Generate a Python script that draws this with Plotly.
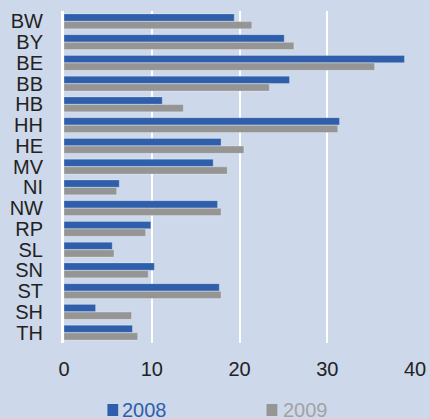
import plotly.graph_objects as go

categories = ["BW", "BY", "BE", "BB", "HB", "HH", "HE", "MV", "NI", "NW", "RP", "SL", "SN", "ST", "SH", "TH"]
values_2008 = [19.4, 25.1, 38.8, 25.7, 11.2, 31.4, 17.9, 17.0, 6.3, 17.5, 9.9, 5.5, 10.3, 17.7, 3.6, 7.8]
values_2009 = [21.4, 26.2, 35.4, 23.4, 13.6, 31.2, 20.5, 18.6, 6.0, 17.9, 9.3, 5.7, 9.6, 17.9, 7.7, 8.4]
x_ticks = [0, 10, 20, 30, 40]
series_names = ["2008", "2009"]

BLUE = "#2f5fab"
GRAY = "#959595"
GRAY_TXT = "#a3a3a3"
BG = "#cdd8ea"

fig = go.Figure()
fig.add_trace(go.Bar(
    y=categories, x=values_2008, orientation="h", name=series_names[0],
    marker=dict(color=BLUE, line=dict(color="rgba(255,255,255,0.35)", width=0.8)),
))
fig.add_trace(go.Bar(
    y=categories, x=values_2009, orientation="h", name=series_names[1],
    marker=dict(color=GRAY, line=dict(color="rgba(255,255,255,0.35)", width=0.8)),
))

L, R, T, B = 63.5, 14.7, 11, 76
ph = 419 - T - B
pw = 430 - L - R

def ypix(p):
    return (419 - B - p) / ph

def xpix(p):
    return (p - L) / pw

fig.update_layout(
    width=430, height=419,
    paper_bgcolor=BG, plot_bgcolor=BG,
    margin=dict(l=L, r=R, t=T, b=B, autoexpand=False),
    barmode="group", bargap=0.26, bargroupgap=0.05,
    font=dict(family="Arial, Liberation Sans, sans-serif", size=20, color="#222222"),
    showlegend=False, hovermode=False,
)
# legend: square key + coloured label
for name, col, sq, sx, tx in [(series_names[0], BLUE, BLUE, 107, 120),
                              (series_names[1], GRAY_TXT, GRAY, 266.5, 281)]:
    fig.add_shape(type="rect", xref="paper", yref="paper",
                  x0=xpix(sx), x1=xpix(sx + 10.8), y0=ypix(404), y1=ypix(416),
                  fillcolor=sq, line=dict(width=0))
    fig.add_annotation(
        xref="paper", yref="paper",
        x=xpix(tx), y=ypix(409.5),
        xanchor="left", yanchor="middle", showarrow=False,
        text=name, font=dict(size=20, color=col),
    )
fig.update_xaxes(
    range=[0, 40], tickvals=x_ticks, showgrid=True, gridcolor="white", gridwidth=2,
    zeroline=False, showline=False, automargin=False,
    ticks="outside", ticklen=8, tickcolor="rgba(0,0,0,0)",
)
fig.update_yaxes(
    autorange="reversed", showgrid=False, zeroline=False, automargin=False,
    tickmode="array", tickvals=categories, ticktext=categories,
    showline=True, linecolor="white", linewidth=3,
    ticks="outside", ticklen=14, tickcolor="rgba(0,0,0,0)",
)

fig.write_html(
    "out.html",
    config={"displayModeBar": False, "staticPlot": True},
    post_script="document.body.style.margin='0';document.body.style.overflow='hidden';document.body.style.background='%s';" % BG,
)
